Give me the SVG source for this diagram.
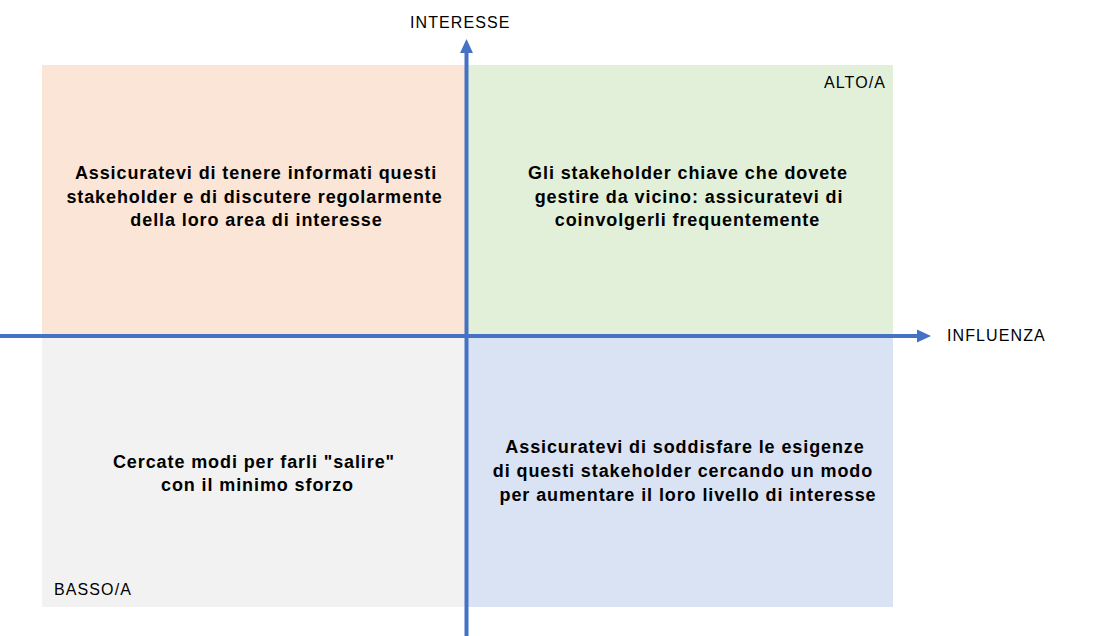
<svg xmlns="http://www.w3.org/2000/svg" width="1099" height="636" viewBox="0 0 1099 636">
<style>
.q{stroke:none}
.t{font-family:"Liberation Sans",Arial,sans-serif;font-weight:bold;font-size:18px;fill:#000;text-anchor:middle;letter-spacing:0.9px}
.l{font-family:"Liberation Sans",Arial,sans-serif;font-size:16px;fill:#000;letter-spacing:1.1px}
.ax{stroke:#4472C4;stroke-width:4;fill:none}
</style>
<defs>
<marker id="ah" markerUnits="userSpaceOnUse" markerWidth="14" markerHeight="14" refX="0" refY="6" orient="auto" viewBox="0 0 13 12">
<path d="M0,0 L13,6 L0,12 Z" fill="#4472C4"/>
</marker>
</defs>
<rect width="1099" height="636" fill="#fff"/>
<g id="q-top-left"><rect class="q" x="42" y="65" width="424" height="271" fill="#FBE5D6"/>
<text class="t"><tspan x="256" y="179">Assicuratevi di tenere informati questi</tspan><tspan x="254.5" y="202.5">stakeholder e di discutere regolarmente</tspan><tspan x="256.5" y="226">della loro area di interesse</tspan></text></g>
<g id="q-top-right"><rect class="q" x="466" y="65" width="427" height="271" fill="#E2F0D9"/>
<text class="t"><tspan x="688" y="179">Gli stakeholder chiave che dovete</tspan><tspan x="689" y="202.5">gestire da vicino: assicuratevi di</tspan><tspan x="687.5" y="226">coinvolgerli frequentemente</tspan></text>
<text class="l" x="886" y="88" text-anchor="end">ALTO/A</text></g>
<g id="q-bottom-left"><rect class="q" x="42" y="336" width="424" height="271" fill="#F2F2F2"/>
<text class="t"><tspan x="254" y="468">Cercate modi per farli "salire"</tspan><tspan x="257.5" y="491">con il minimo sforzo</tspan></text>
<text class="l" x="54" y="595">BASSO/A</text></g>
<g id="q-bottom-right"><rect class="q" x="466" y="336" width="427" height="271" fill="#DAE3F3"/>
<text class="t"><tspan x="685" y="453">Assicuratevi di soddisfare le esigenze</tspan><tspan x="683" y="477">di questi stakeholder cercando un modo</tspan><tspan x="688" y="501">per aumentare il loro livello di interesse</tspan></text></g>
<g id="connectors">
<line class="ax" x1="0" y1="336" x2="917" y2="336" marker-end="url(#ah)"/>
<line class="ax" x1="466.5" y1="636" x2="466.5" y2="53" marker-end="url(#ah)"/>
</g>
<g id="axis-labels">
<text class="l" x="410" y="28">INTERESSE</text>
<text class="l" x="947" y="341">INFLUENZA</text>
</g>
</svg>
